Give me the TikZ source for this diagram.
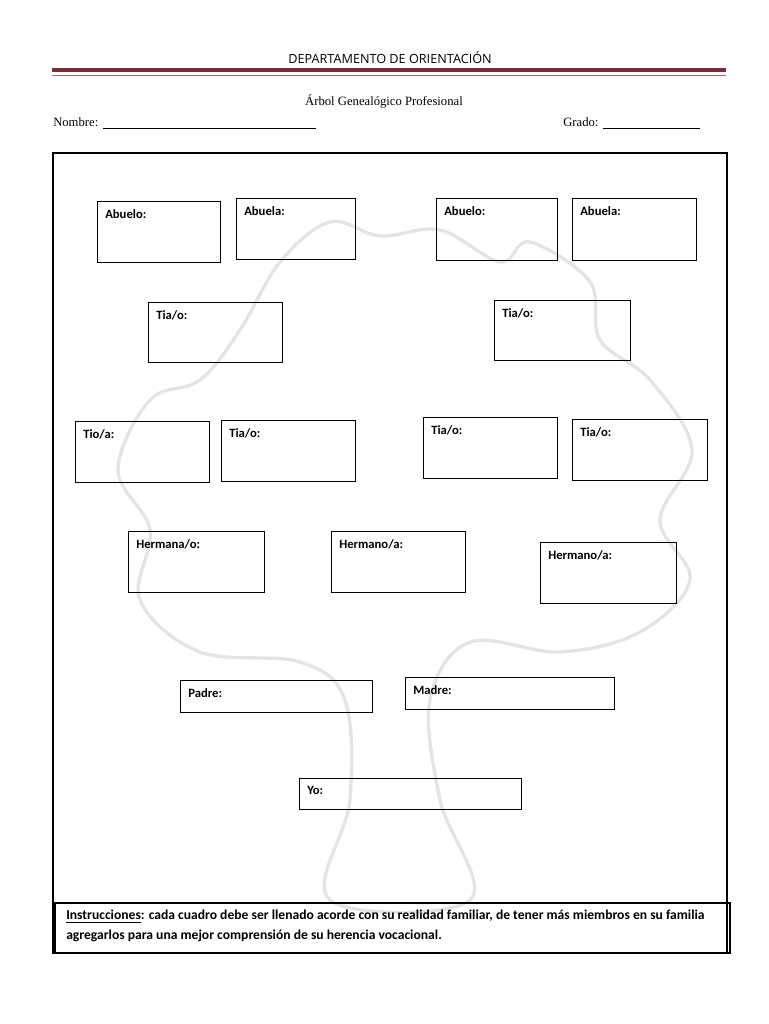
\documentclass[tikz,border=0pt]{standalone}
\usepackage{fontspec}
\setmainfont{Liberation Serif}
\setsansfont{Carlito}
\newfontfamily\headfont{Open Sans}
\usetikzlibrary{positioning}
\definecolor{headred}{HTML}{7A2E2E}
\definecolor{treegray}{HTML}{E4E4E4}

\begin{document}
\begin{tikzpicture}[x=0.75pt, y=-0.75pt]
\tikzset{
  famLabel/.style={anchor=north west, inner sep=0pt, font=\sffamily\bfseries\fontsize{9.5}{11}\selectfont},
}
\useasboundingbox (0,0) rectangle (768,1024);

% header
\node (head) at (390,58) {\headfont\fontsize{9.5}{11}\selectfont DEPARTAMENTO DE ORIENTACIÓN};
\draw[headred, line width=2.6pt] (52,70) -- (726,70);
\draw[headred!70, line width=0.6pt] (52,75) -- (726,75);
\node (title) at (384,101) {\fontsize{9.5}{11}\selectfont Árbol Genealógico Profesional};
\node (nombre) [anchor=west, inner sep=0pt] at (53,123) {\fontsize{9.5}{11}\selectfont Nombre: \rule[-1pt]{160pt}{0.4pt}};
\node (grado) [anchor=west, inner sep=0pt] at (563,123) {\fontsize{9.5}{11}\selectfont Grado: \rule[-1pt]{73pt}{0.4pt}};

% faded tree
\draw[treegray, line width=2.5pt, line join=round] plot[smooth cycle, tension=0.6] coordinates {
  (330,900) (350,800) (345,700) (300,662) (200,652) (140,600) (150,530)
  (118,470) (150,400) (200,380) (240,330) (280,262) (330,222) (380,236)
  (440,230) (500,262) (530,242) (590,282) (600,340) (650,380) (692,450)
  (660,520) (690,580) (640,632) (560,652) (470,642) (430,700) (440,800) (470,900)};

% frame
\draw[line width=2.2pt] (53,153) rectangle (727,953);

% boxes
\foreach \name/\xa/\ya/\xb/\yb/\txt in {
  abueloA/97/201/220/262/{Abuelo:}, abuelaA/236/198/355/259/{Abuela:},
  abueloB/436/198/557/260/{Abuelo:}, abuelaB/572/198/696/260/{Abuela:},
  tiaA/148/302/282/362/{Tia/o:}, tiaB/494/300/630/360/{Tia/o:},
  tioC/75/421/209/482/{Tio/a:}, tiaD/221/420/355/481/{Tia/o:},
  tiaE/423/417/557/478/{Tia/o:}, tiaF/572/419/707/480/{Tia/o:},
  hermA/128/531/264/592/{Hermana/o:}, hermB/331/531/465/592/{Hermano/a:},
  hermC/540/542/676/603/{Hermano/a:},
  padre/180/680/372/712/{Padre:}, madre/405/677/614/709/{Madre:},
  yo/299/778/521/809/{Yo:}} {
  \draw (\xa,\ya) rectangle (\xb,\yb);
  \node (\name) [famLabel] at ({\xa+8},{\ya+8}) {\txt};
}

% instructions
\draw[line width=2.2pt] (55,903) rectangle (730,953);
\node (instr) [anchor=north west, inner sep=0pt, align=left,
  font=\sffamily\bfseries\fontsize{10.2}{15}\selectfont] at (66,910)
  {\underline{Instrucciones}: cada cuadro debe ser llenado acorde con su realidad familiar, de tener más miembros en su familia\\
   agregarlos para una mejor comprensión de su herencia vocacional.};
\end{tikzpicture}
\end{document}
